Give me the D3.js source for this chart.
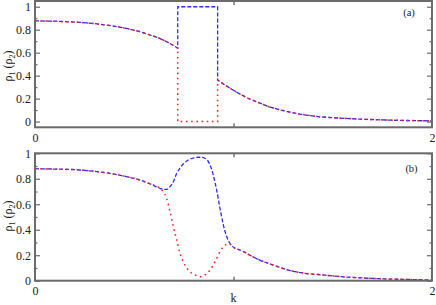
<!DOCTYPE html>
<html><head><meta charset="utf-8">
<script src="https://cdn.jsdelivr.net/npm/d3@7"></script>
<style>
body{margin:0;background:#fff;}
svg text{font-family:"Liberation Serif","DejaVu Serif","Times New Roman",serif !important;}
</style></head>
<body><svg id="c" width="436" height="305"></svg>
<script>
// ---- data ----
const xTicks = [0, 1, 2];
const xTickLabels = ["0", "", "2"];
const yMajorTicks = [0, 0.2, 0.4, 0.6, 0.8, 1];
const yMinorTicks = [0.1, 0.3, 0.5, 0.7, 0.9];
const yTickLabelsA = ["0", "0.2", "0.4", "0.6", "0.8", "1"];
const yTickLabelsB = ["0", "0.2", "0.4", "0.6", "0.8", "1"];

// panel (a)
const kLeftA   = [0, 0.1, 0.227, 0.3, 0.394, 0.46, 0.529, 0.579, 0.62, 0.646, 0.68, 0.719];
const rhoLeftA = [0.877, 0.874, 0.864, 0.853, 0.832, 0.812, 0.783, 0.754, 0.73, 0.71, 0.68, 0.64];
const kJumpA   = [0.719, 0.92];
const rho1BoxA = [1.0, 1.0];   // blue (rho1) inside the gap
const rho2BoxA = [0.0, 0.0];   // red (rho2) inside the gap
const kRightA   = [0.92, 0.95, 0.98, 1.02, 1.07, 1.134, 1.18, 1.234, 1.29, 1.335, 1.436, 1.537, 1.637, 1.738, 1.839, 1.92, 2.0];
const rhoRightA = [0.362, 0.326, 0.293, 0.252, 0.205, 0.16, 0.128, 0.102, 0.08, 0.064, 0.041, 0.03, 0.021, 0.015, 0.01, 0.008, 0.006];

// panel (b)
const kLeftB   = [0, 0.1, 0.227, 0.3, 0.394, 0.46, 0.529, 0.58, 0.63];
const rhoLeftB = [0.879, 0.876, 0.869, 0.858, 0.838, 0.817, 0.79, 0.76, 0.725];
const kMid1B   = [0.646, 0.663, 0.68, 0.697, 0.714, 0.73, 0.747, 0.772, 0.797, 0.831, 0.856, 0.882, 0.898, 0.915, 0.932, 0.949, 0.966, 0.982, 1.008];
const rho1MidB = [0.717, 0.717, 0.738, 0.777, 0.843, 0.882, 0.916, 0.947, 0.963, 0.969, 0.961, 0.908, 0.83, 0.712, 0.568, 0.437, 0.345, 0.294, 0.254];
const kMid2B   = [0.646, 0.663, 0.68, 0.697, 0.714, 0.73, 0.747, 0.772, 0.806, 0.831, 0.856, 0.882, 0.907, 0.932, 0.949, 0.974, 0.99, 1.008];
const rho2MidB = [0.70, 0.647, 0.542, 0.424, 0.319, 0.215, 0.149, 0.084, 0.045, 0.031, 0.045, 0.084, 0.149, 0.228, 0.267, 0.288, 0.28, 0.254];
const kRightB   = [1.008, 1.033, 1.083, 1.134, 1.2, 1.285, 1.36, 1.452, 1.54, 1.62, 1.7, 1.788, 1.9, 2.0];
const rhoRightB = [0.254, 0.241, 0.2, 0.16, 0.123, 0.08, 0.058, 0.045, 0.032, 0.024, 0.018, 0.013, 0.009, 0.006];

const zip = (ks, vs) => ks.map((k, i) => [k, vs[i]]);

const rho1A = [...zip(kLeftA, rhoLeftA), ...zip(kJumpA, rho1BoxA), ...zip(kRightA, rhoRightA)];
const rho2A = [...zip(kLeftA, rhoLeftA), ...zip(kJumpA, rho2BoxA), ...zip(kRightA, rhoRightA)];
const rho1B = [...zip(kLeftB, rhoLeftB), ...zip(kMid1B, rho1MidB), ...zip(kRightB, rhoRightB).slice(1)];
const rho2B = [...zip(kLeftB, rhoLeftB), ...zip(kMid2B, rho2MidB), ...zip(kRightB, rhoRightB).slice(1)];

const svg = d3.select("#c");
const L = 35, R = 432;
const x = d3.scaleLinear().domain([0, 2]).range([L, R]);
const frameColor = "#6b6b6b";

function styleTicks(sel, color, w) {
  sel.select(".domain").remove();
  sel.selectAll("line").attr("stroke", color).attr("stroke-width", w);
  sel.selectAll("text").attr("font-size", 12).attr("fill", "#222");
}

function panel(top, bottom, yDomain, s1, s2, tag, tagX, tagY, yLabels, yLabelCenter, curve) {
  const y = d3.scaleLinear().domain(yDomain).range([bottom, top]);
  const g = svg.append("g");

  styleTicks(g.append("g").attr("transform", `translate(${L},0)`)
    .call(d3.axisLeft(y).tickValues(yMajorTicks).tickSize(-5).tickPadding(4)
      .tickFormat((d, i) => yLabels[i])), frameColor, 1.2);
  styleTicks(g.append("g").attr("transform", `translate(${L},0)`)
    .call(d3.axisLeft(y).tickValues(yMinorTicks).tickSize(-2.5).tickFormat("")), frameColor, 1.2);
  styleTicks(g.append("g").attr("transform", `translate(${R},0)`)
    .call(d3.axisRight(y).tickValues(yMajorTicks).tickSize(-5).tickFormat("")), frameColor, 1.2);
  styleTicks(g.append("g").attr("transform", `translate(${R},0)`)
    .call(d3.axisRight(y).tickValues(yMinorTicks).tickSize(-2.5).tickFormat("")), frameColor, 1.2);
  styleTicks(g.append("g").attr("transform", `translate(0,${bottom})`)
    .call(d3.axisBottom(x).tickValues(xTicks).tickSize(-4).tickPadding(6)
      .tickFormat((d, i) => xTickLabels[i])), "#333", 1);
  styleTicks(g.append("g").attr("transform", `translate(0,${top})`)
    .call(d3.axisTop(x).tickValues(xTicks).tickSize(-4).tickFormat("")), "#333", 1);

  const line = d3.line().x(d => x(d[0])).y(d => y(d[1])).curve(curve);
  g.append("path").attr("d", line(s1)).attr("fill", "none")
    .attr("stroke", "#2b2bff").attr("stroke-width", 1.3).attr("stroke-dasharray", "4,2");
  g.append("path").attr("d", line(s2)).attr("fill", "none")
    .attr("stroke", "#ff1a1a").attr("stroke-width", 1.5).attr("stroke-dasharray", "1.6,3.6");

  g.append("rect").attr("x", L).attr("y", top).attr("width", R - L).attr("height", bottom - top)
    .attr("fill", "none").attr("stroke", frameColor).attr("stroke-width", 2);

  g.append("text").attr("x", tagX).attr("y", tagY).attr("font-size", 10.5)
    .attr("text-anchor", "middle").attr("fill", "#222").text(tag);

  const yl = g.append("text").attr("transform", `translate(12,${yLabelCenter}) rotate(-90)`)
    .attr("text-anchor", "middle").attr("font-size", 12).attr("fill", "#222");
  yl.append("tspan").text("ρ");
  yl.append("tspan").attr("font-size", 8).attr("dy", 3).text("1");
  yl.append("tspan").attr("dy", -3).text(" (ρ");
  yl.append("tspan").attr("font-size", 8).attr("dy", 3).text("2");
  yl.append("tspan").attr("dy", -3).text(")");
  return y;
}

panel(1, 127.3, [-0.05, 1.05], rho1A, rho2A, "(a)", 409, 16, yTickLabelsA, 66, d3.curveLinear);
panel(153.3, 280.7, [0, 1], rho1B, rho2B, "(b)", 411.5, 172, yTickLabelsB, 216, d3.curveMonotoneX);

svg.append("text").attr("x", x(1)).attr("y", 302).attr("text-anchor", "middle")
  .attr("font-size", 12).attr("fill", "#222").text("k");
</script>
</body></html>
